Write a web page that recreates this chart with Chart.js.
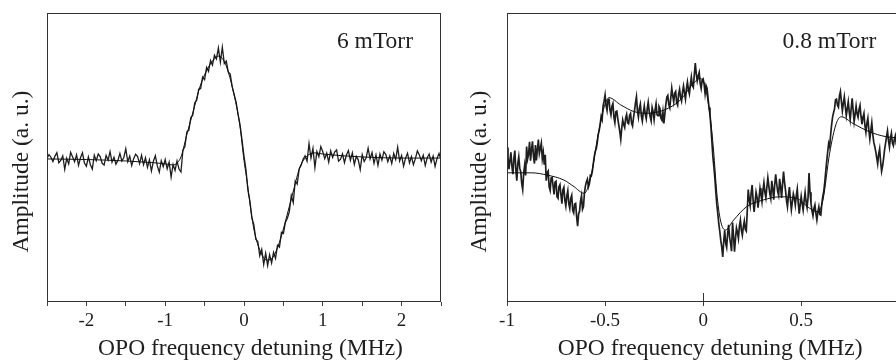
<!DOCTYPE html>
<html><head><meta charset="utf-8">
<script src="https://cdn.jsdelivr.net/npm/chart.js@4.4.1/dist/chart.umd.min.js"></script>
<style>
html,body{margin:0;padding:0;width:896px;height:360px;overflow:hidden;background:#fff;}
#c1{position:absolute;left:0;top:0;}
#c2{position:absolute;left:448px;top:0;}
</style></head><body>
<canvas id="c1" width="448" height="360"></canvas>
<canvas id="c2" width="460" height="360"></canvas>
<script>
// ---- texts ----
const xTitle = 'OPO frequency detuning (MHz)';
const yTitle = 'Amplitude (a. u.)';
const leftLabel = '6 mTorr';
const rightLabel = '0.8 mTorr';
const leftTickLabels = ['-2', '-1', '0', '1', '2'];
const rightTickLabels = ['-1', '-0.5', '0', '0.5', '1'];

// ---- left panel (6 mTorr): measured trace, sampled uniformly from -2.5 to 2.5 MHz ----
const leftTraceStart = -2.5, leftTraceEnd = 2.5;
const leftTrace = [
  49.8,51.0,50.1,48.6,50.4,51.7,48.2,49.0,
  50.6,45.9,49.7,47.8,51.8,50.2,48.5,50.9,
  47.3,49.9,51.6,48.1,47.0,50.2,47.6,46.0,
  50.8,48.9,51.2,50.3,48.0,47.4,50.7,49.1,
  52.0,48.4,50.1,47.7,49.0,51.4,48.8,50.0,
  53.0,48.6,50.5,47.2,49.6,51.1,50.3,47.9,
  50.8,47.5,49.9,46.6,49.2,45.3,48.7,50.6,
  47.1,44.9,48.9,46.8,49.3,46.1,48.4,43.2,
  47.6,45.5,48.8,46.0,45.0,52.5,53.8,58.9,
  59.4,63.8,64.6,68.9,69.8,73.6,73.9,77.8,
  76.9,81.2,79.8,83.6,82.0,85.4,84.1,87.9,
  83.0,88.2,82.5,83.4,79.6,78.9,74.5,71.8,
  69.2,64.9,61.3,56.0,50.5,45.8,38.6,34.9,
  29.1,26.8,21.7,20.9,16.0,18.2,13.0,16.9,
  12.6,16.4,13.5,17.2,15.1,19.6,19.0,24.1,
  23.7,27.5,29.0,31.2,36.8,34.4,41.9,40.8,
  46.0,47.3,49.4,50.6,48.7,54.8,49.8,53.2,
  46.5,52.1,50.3,53.8,52.0,49.6,51.5,48.4,
  52.3,50.0,51.9,52.6,48.7,49.4,51.3,48.2,
  50.9,52.4,49.0,51.6,47.6,50.4,49.2,45.8,
  51.0,48.6,49.9,53.2,49.5,51.7,48.0,50.9,
  47.3,51.2,49.1,52.0,51.0,48.5,50.6,47.9,
  51.4,49.3,53.6,48.8,50.7,47.0,49.8,51.5,
  48.1,50.3,47.5,49.6,52.3,50.9,48.9,50.8,
  47.2,49.9,51.2,48.4,50.5,46.9,49.7,51.4,
  49.3
];
// left fit
const leftFitX = [-2.5,-2.0,-1.5,-1.2,-1.0,-0.9,-0.85,-0.8,-0.72,-0.64,-0.56,-0.47,-0.39,-0.32,-0.26,-0.22,-0.14,-0.05,0.0,0.03,0.12,0.2,0.29,0.37,0.46,0.54,0.63,0.71,0.8,0.9,1.0,1.5,2.0,2.5];
const leftFitY = [49.5,49.3,48.8,48.3,47.8,47.4,48.1,50.2,58.5,66.4,74.4,80.3,83.7,85.1,83.7,81.3,73.4,60.6,49.0,43.5,26.0,18.0,14.5,15.6,21.5,29.4,38.8,46.7,50.5,51.6,51.2,50.2,49.8,49.8];

// ---- right panel (0.8 mTorr): measured trace, sampled uniformly from -1 to 1 MHz ----
const rightTraceStart = -1, rightTraceEnd = 1;
const rightTrace = [
  53.5,50.2,46.0,48.9,51.8,47.0,44.2,49.6,52.4,45.8,42.0,47.9,50.2,46.3,45.1,41.0,38.9,44.5,47.3,43.8,
  53.8,49.5,51.2,55.4,48.9,52.7,55.6,50.3,47.9,54.3,49.0,52.8,56.2,51.4,53.1,54.9,49.6,51.8,47.5,50.9,
  42.0,44.7,45.3,39.8,38.6,42.9,43.1,40.2,37.2,41.5,41.8,36.4,35.9,39.9,40.6,37.1,34.0,38.8,39.7,35.2,
  33.2,36.7,38.5,34.0,32.4,35.8,36.9,31.7,30.8,33.9,34.1,29.5,26.2,30.4,31.5,35.0,36.8,32.1,33.0,37.9,
  40.2,41.6,42.5,39.8,40.9,43.8,43.6,45.2,47.8,50.3,52.1,53.0,55.0,57.9,59.4,61.5,64.2,63.1,67.9,69.5,
  71.6,68.0,66.3,69.9,70.4,66.5,64.8,67.7,68.7,64.0,62.1,65.8,66.0,63.4,61.2,59.0,56.3,60.1,63.0,61.4,
  60.4,63.7,64.9,62.0,61.7,64.5,65.2,61.9,60.9,63.8,66.1,68.9,71.0,66.2,64.0,67.1,68.5,64.4,62.6,65.5,
  67.8,65.0,63.4,66.8,69.1,66.0,64.2,62.7,67.3,65.9,63.1,66.4,68.6,64.8,64.5,67.7,67.0,63.6,62.9,65.8,
  61.8,65.2,68.4,70.9,71.5,68.3,67.2,70.6,74.0,71.4,69.3,72.2,72.8,69.0,68.1,71.9,73.6,70.8,69.5,72.7,
  74.7,72.3,70.2,73.8,76.1,73.5,72.0,75.2,77.8,75.0,74.3,78.6,82.7,79.0,76.5,78.2,79.4,75.6,73.9,76.8,
  77.2,75.5,72.1,74.9,74.0,70.6,67.3,64.8,60.5,55.2,50.1,46.7,42.8,37.9,33.6,30.5,27.0,24.4,21.3,19.0,
  15.6,21.0,24.8,20.3,18.9,23.7,26.7,22.4,20.2,17.6,27.5,23.0,17.4,21.9,25.6,24.1,22.0,26.3,28.3,24.9,
  23.1,26.0,28.0,25.2,24.6,31.5,38.9,35.6,33.4,37.8,40.5,35.0,31.2,34.7,38.0,36.2,32.6,35.9,39.4,37.1,
  34.7,38.6,41.3,38.0,36.1,39.7,43.0,40.1,37.5,35.8,41.9,39.2,35.4,40.6,44.2,41.0,38.3,36.9,42.6,40.0,
  36.0,40.8,45.1,41.5,38.7,35.2,33.0,36.9,39.8,35.5,31.9,34.6,37.4,35.9,33.5,36.8,39.1,34.3,30.6,33.8,
  36.6,34.0,31.8,35.1,37.9,34.6,32.7,36.2,44.6,38.0,34.2,31.5,29.8,32.4,33.6,30.7,28.4,31.1,32.9,30.3,
  30.1,33.8,36.5,38.2,41.2,45.0,48.6,51.9,54.9,53.7,57.8,61.2,64.0,65.5,66.9,70.0,70.2,68.1,67.4,71.3,
  72.8,69.4,66.1,68.7,71.0,67.6,64.5,66.9,69.3,65.8,63.2,67.0,70.5,66.3,62.4,64.9,67.8,65.1,63.9,66.6,
  68.0,64.2,61.5,63.9,65.3,61.0,58.7,61.8,63.6,59.5,56.4,59.3,62.0,58.1,55.3,53.9,52.1,50.0,47.8,51.2,
  53.0,48.6,45.2,47.0,49.5,52.6,54.8,57.1,59.2,55.9,53.6,56.7,58.4,55.0,54.1,56.3,57.5,54.6,53.8,55.5,
  56.0
];
// right fit
const rightFitX = [-1,-0.877,-0.794,-0.71,-0.658,-0.607,-0.572,-0.54,-0.504,-0.48,-0.42,-0.353,-0.286,-0.2,-0.116,-0.049,-0.014,0.01,0.036,0.053,0.07,0.088,0.113,0.156,0.222,0.307,0.392,0.476,0.544,0.586,0.611,0.645,0.679,0.704,0.764,0.848,0.933,1.0];
const rightFitY = [44.7,44.7,43.9,42.2,39.9,37.6,43.4,56.1,67.6,70.7,68.2,65.9,65.3,66.4,69.9,75.7,77.4,74.5,64.1,52.6,37.6,28.4,24.9,28.4,33.0,35.3,36.4,35.9,32.4,31.2,35.3,51.5,61.8,64.1,61.8,58.9,57.2,56.8];

// ---- helpers ----
const SERIF = '"Liberation Serif", "Times New Roman", serif';
const INK = '#1e1e1e';
function tracePoints(vals, start, end) {
  const step = (end - start) / (vals.length - 1);
  return vals.map((v, i) => ({x: start + i * step, y: v}));
}
function pairPoints(xs, ys) { return xs.map((x, i) => ({x, y: ys[i]})); }

function decorPlugin(o) {
  return {
    id: 'decor',
    afterDraw(chart) {
      const {ctx, chartArea: a} = chart;
      ctx.save();
      ctx.strokeStyle = '#333';
      ctx.lineWidth = 1;
      ctx.strokeRect(a.left + 0.5, a.top + 0.5, a.right - a.left - 1, a.bottom - a.top - 1);
      if (o.zeroTick) {
        const px = Math.round(chart.scales.x.getPixelForValue(0)) + 0.5;
        ctx.beginPath();
        ctx.moveTo(px, a.bottom - 9);
        ctx.lineTo(px, a.bottom + 3);
        ctx.stroke();
      }
      ctx.fillStyle = INK;
      ctx.font = '23.5px ' + SERIF;
      ctx.textBaseline = 'alphabetic';
      ctx.textAlign = 'center';
      ctx.fillText(xTitle, (a.left + a.right) / 2 + o.xTitleShift, a.bottom + 53);
      ctx.textAlign = 'right';
      ctx.fillText(o.label, a.right - o.labelInset, a.top + 35);
      ctx.save();
      ctx.translate(a.left - o.yTitleGap, (a.top + a.bottom) / 2 + 14);
      ctx.rotate(-Math.PI / 2);
      ctx.textAlign = 'center';
      ctx.fillText(yTitle, 0, 0);
      ctx.restore();
      ctx.restore();
    }
  };
}

function makeChart(id, cfg) {
  return new Chart(document.getElementById(id), {
    type: 'line',
    data: {
      datasets: [
        {data: cfg.trace, borderColor: INK, borderWidth: cfg.traceWidth, pointRadius: 0, tension: 0, order: 2},
        {data: cfg.fit, borderColor: '#111', borderWidth: 1, pointRadius: 0, cubicInterpolationMode: 'monotone', order: 1}
      ]
    },
    options: {
      responsive: false,
      animation: false,
      devicePixelRatio: 1,
      layout: {padding: {left: cfg.left, right: 7, top: 13, bottom: 0}},
      plugins: {legend: {display: false}, tooltip: {enabled: false}},
      scales: {
        x: {
          type: 'linear',
          min: cfg.min, max: cfg.max,
          border: {display: false},
          grid: {drawOnChartArea: false, drawTicks: true, tickLength: 4, color: '#444', lineWidth: 1},
          ticks: {
            stepSize: 0.5,
            autoSkip: false,
            maxRotation: 0,
            padding: 4,
            color: INK,
            font: {family: SERIF, size: 19, lineHeight: 1.2},
            callback: (v) => { const s = String(Math.round(v * 10) / 10); return cfg.tickLabels.includes(s) ? s : ''; }
          },
          afterFit: (s) => { s.height = 58; }
        },
        y: {display: false, min: 0, max: 100}
      }
    },
    plugins: [decorPlugin(cfg.decor)]
  });
}

makeChart('c1', {
  trace: tracePoints(leftTrace, leftTraceStart, leftTraceEnd),
  fit: pairPoints(leftFitX, leftFitY),
  traceWidth: 1.3,
  min: -2.5, max: 2.5, left: 47,
  tickLabels: leftTickLabels,
  decor: {label: leftLabel, labelInset: 28, xTitleShift: 6.5, yTitleGap: 19, zeroTick: false}
});
makeChart('c2', {
  trace: tracePoints(rightTrace, rightTraceStart, rightTraceEnd),
  fit: pairPoints(rightFitX, rightFitY),
  traceWidth: 1.7,
  min: -1, max: 1, left: 59,
  tickLabels: rightTickLabels,
  decor: {label: rightLabel, labelInset: 23, xTitleShift: 7, yTitleGap: 21, zeroTick: true}
});
</script>
</body></html>
